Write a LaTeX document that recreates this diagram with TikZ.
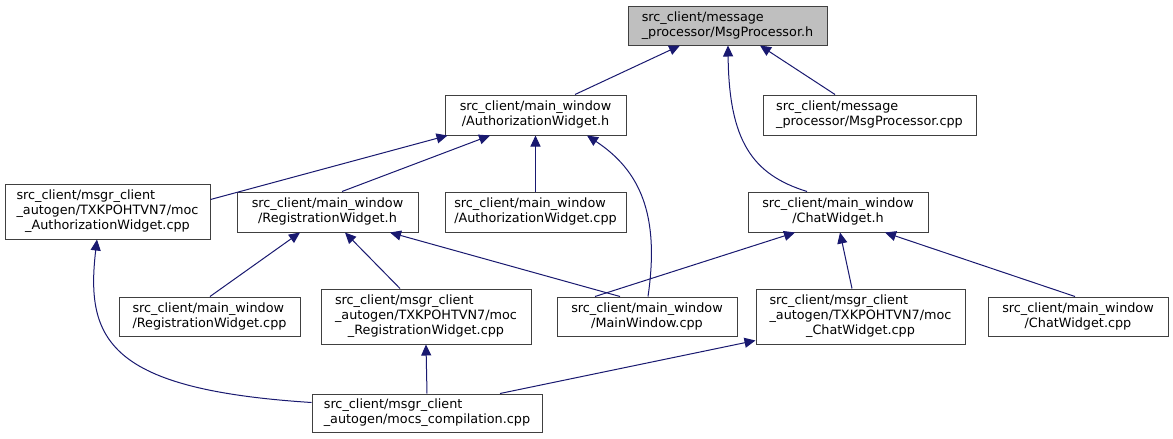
\documentclass[tikz,border=0pt]{standalone}
\usepackage{fontspec}
\setmainfont{DejaVu Sans}
\usetikzlibrary{arrows.meta}
\definecolor{edgecol}{HTML}{191970}
\definecolor{boxline}{HTML}{404040}
\definecolor{topfill}{HTML}{BFBFBF}
\newcommand\lbltwo[2]{\begin{tabular}{@{}l@{}}#1\\\multicolumn{1}{@{}c@{}}{#2}\end{tabular}}
\newcommand\lblthree[3]{\begin{tabular}{@{}l@{}}#1\\#2\\\multicolumn{1}{@{}c@{}}{#3}\end{tabular}}
\tikzset{
  box/.style={draw=boxline, fill=white, line width=1pt, inner sep=0pt, rectangle,
    font=\fontsize{12.8}{15}\selectfont},
  edge/.style={draw=edgecol, line width=1pt, {Triangle[length=11pt,width=10pt,fill=edgecol]}-},
}
\begin{document}
\begin{tikzpicture}[x=1pt,y=-1pt]
\useasboundingbox[fill=white] (0,0) rectangle (1173,439);
% nodes
\node[box, fill=topfill, minimum width=199, minimum height=39] (mph) at (727.5,25.5)
  {\lbltwo{src\_client/message}{\_processor/MsgProcessor.h}};
\node[box, minimum width=181, minimum height=40] (awh) at (535.5,115)
  {\lbltwo{src\_client/main\_window}{/AuthorizationWidget.h}};
\node[box, minimum width=213, minimum height=40] (mpcpp) at (869.5,115)
  {\lbltwo{src\_client/message}{\_processor/MsgProcessor.cpp}};
\node[box, minimum width=205, minimum height=55] (mocaw) at (107.5,211.5)
  {\lblthree{src\_client/msgr\_client}{\_autogen/TXKPOHTVN7/moc}{\_AuthorizationWidget.cpp}};
\node[box, minimum width=181, minimum height=40] (rwh) at (327.5,212)
  {\lbltwo{src\_client/main\_window}{/RegistrationWidget.h}};
\node[box, minimum width=181, minimum height=40] (awcpp) at (535.5,212)
  {\lbltwo{src\_client/main\_window}{/AuthorizationWidget.cpp}};
\node[box, minimum width=180, minimum height=40] (cwh) at (838,212)
  {\lbltwo{src\_client/main\_window}{/ChatWidget.h}};
\node[box, minimum width=181, minimum height=39] (rwcpp) at (209.5,316.5)
  {\lbltwo{src\_client/main\_window}{/RegistrationWidget.cpp}};
\node[box, minimum width=210, minimum height=55] (mocrw) at (426,316.5)
  {\lblthree{src\_client/msgr\_client}{\_autogen/TXKPOHTVN7/moc}{\_RegistrationWidget.cpp}};
\node[box, minimum width=180, minimum height=39] (mwcpp) at (647,316.5)
  {\lbltwo{src\_client/main\_window}{/MainWindow.cpp}};
\node[box, minimum width=209, minimum height=55] (moccw) at (860.5,316.5)
  {\lblthree{src\_client/msgr\_client}{\_autogen/TXKPOHTVN7/moc}{\_ChatWidget.cpp}};
\node[box, minimum width=180, minimum height=39] (cwcpp) at (1078,316.5)
  {\lbltwo{src\_client/main\_window}{/ChatWidget.cpp}};
\node[box, minimum width=230, minimum height=38] (mocs) at (427,413)
  {\lbltwo{src\_client/msgr\_client}{\_autogen/mocs\_compilation.cpp}};
% edges (arrow at the included header)
\draw[edge] ([xshift=-47.5]mph.south) -- ([xshift=39.5]awh.north);
\draw[edge] ([xshift=32.5]mph.south) -- ([xshift=-34.5]mpcpp.north);
\draw[edge] ([xshift=0.5]mph.south) .. controls ([xshift=1.5,yshift=-95]mph.south) and ([xshift=-86,yshift=17]cwh.north) .. ([xshift=-31]cwh.north);
\draw[edge] ([xshift=3]awh.south west) -- ([yshift=-16]mocaw.north east);
\draw[edge] ([xshift=-45.5]awh.south) -- ([xshift=14.5]rwh.north);
\draw[edge] (awh.south) -- (awcpp.north);
\draw[edge] ([xshift=51.5]awh.south) .. controls ([xshift=104.5,yshift=-35]awh.south) and ([xshift=13,yshift=82]mwcpp.north) .. ([xshift=1]mwcpp.north);
\draw[edge] ([xshift=-10.5]mocaw.south) .. controls ([xshift=-22.5,yshift=-101]mocaw.south) and ([xshift=-202,yshift=4]mocs.north west) .. ([yshift=-9]mocs.north west);
\draw[edge] ([xshift=-27.5]rwh.south) -- ([xshift=0.5]rwcpp.north);
\draw[edge] ([xshift=17.5]rwh.south) -- ([xshift=-26]mocrw.north);
\draw[edge] ([xshift=62.5]rwh.south) -- ([xshift=-27]mwcpp.north);
\draw[edge] ([xshift=-43]cwh.south) -- ([xshift=-52]mwcpp.north);
\draw[edge] ([xshift=2]cwh.south) -- ([xshift=-8.5]moccw.north);
\draw[edge] ([xshift=47]cwh.south) -- ([xshift=-3]cwcpp.north);
\draw[edge] (mocrw.south) -- (mocs.north);
\draw[edge] ([yshift=4]moccw.south west) -- ([xshift=73]mocs.north);
\end{tikzpicture}
\end{document}
